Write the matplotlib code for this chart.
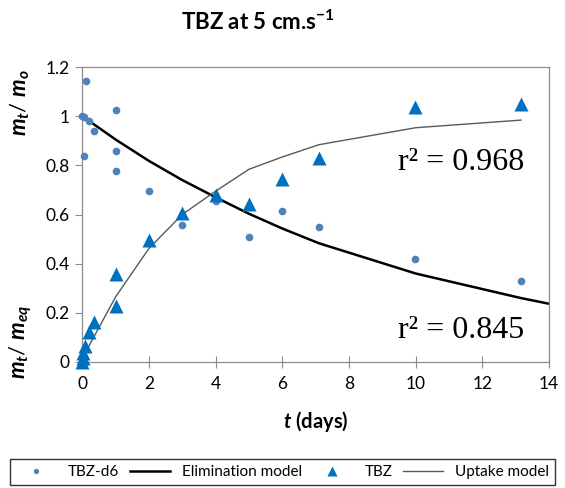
import matplotlib
matplotlib.use("Agg")
import matplotlib.pyplot as plt

# ---- data ----
d6_t = [0.0, 0.04, 0.11, 0.2, 0.34, 0.05, 1.01, 1.01, 1.01, 2.01, 3.0, 4.0, 5.01, 6.0, 7.1, 9.98, 13.16]
d6_y = [1.0, 0.995, 1.142, 0.979, 0.938, 0.836, 1.025, 0.86, 0.777, 0.696, 0.558, 0.656, 0.508, 0.614, 0.548, 0.418, 0.331]

tbz_t = [0.0, 0.01, 0.03, 0.08, 0.21, 0.34, 1.01, 1.01, 2.01, 3.0, 4.02, 5.01, 6.0, 7.1, 9.98, 13.16]
tbz_y = [0.0, 0.015, 0.035, 0.065, 0.12, 0.162, 0.357, 0.228, 0.496, 0.607, 0.679, 0.642, 0.746, 0.828, 1.037, 1.048]

elim_t = [0, 1, 2, 3, 4, 5, 6, 7.1, 10, 13.16, 14]
elim_y = [1.0, 0.905, 0.818, 0.74, 0.67, 0.603, 0.543, 0.483, 0.36, 0.26, 0.237]

upt_t = [0.1, 0.2, 0.34, 1, 2, 3, 4, 5, 6, 7.1, 10, 13.16]
upt_y = [0.04, 0.065, 0.10, 0.265, 0.462, 0.60, 0.695, 0.784, 0.834, 0.884, 0.953, 0.984]

r2_labels = ["r² = 0.968", "r² = 0.845"]
r2_pos = [0.81, 0.13]

plt.rcParams["font.family"] = ["Lato", "DejaVu Sans"]
plt.rcParams["mathtext.fontset"] = "custom"
plt.rcParams["mathtext.it"] = "Lato:italic:bold"
plt.rcParams["mathtext.rm"] = "Lato:bold"
plt.rcParams["mathtext.bf"] = "Lato:bold"

grey = "#8c8c8c"
fig = plt.figure(figsize=(5.65, 4.88), dpi=100)
ax = fig.add_axes([0.1456, 0.2582, 0.8261, 0.6045])

ax.plot(d6_t, d6_y, "o", color="#4f81bd", ms=5.5, mec="none", label="TBZ-d6",
        zorder=3, clip_on=False)
ax.plot(elim_t, elim_y, "-", color="black", lw=1.8, label="Elimination model", zorder=2)
ax.plot(tbz_t, tbz_y, "^", color="#0070c0", ms=10, mec="none", label="TBZ",
        zorder=3, clip_on=False)
ax.plot(upt_t, upt_y, "-", color="#595959", lw=1.0, label="Uptake model", zorder=2)

for lab, yy in zip(r2_labels, r2_pos):
    ax.text(13.25, yy, lab, ha="right", va="center", fontsize=23,
            family="Liberation Serif")

ax.set_xlim(0, 14)
ax.set_ylim(0, 1.2)
ax.set_xticks(range(0, 15, 2))
ax.set_yticks([0, 0.2, 0.4, 0.6, 0.8, 1.0, 1.2])
ax.set_yticklabels(["0", "0.2", "0.4", "0.6", "0.8", "1", "1.2"])
for s in ax.spines.values():
    s.set_color(grey)
    s.set_linewidth(0.9)
ax.tick_params(axis="x", direction="inout", length=8, color=grey, labelsize=12.5, pad=6)
ax.tick_params(axis="y", direction="out", length=5, color=grey, labelsize=12.5, pad=4)

ax.set_xlabel(r"$t$ (days)", fontsize=14.5, fontweight="bold", labelpad=12)

fig.text(0.036, 0.79, r"$m_t$/ $m_o$", rotation=90, ha="center", va="center", fontsize=16)
fig.text(0.036, 0.30, r"$m_t$/ $m_{eq}$", rotation=90, ha="center", va="center", fontsize=16)

fig.text(0.457, 1 - 22 / 488, r"TBZ at 5 cm.s$^{-1}$", ha="center", va="center",
         fontsize=16, fontweight="bold")

leg = fig.legend(loc="center", ncol=4, mode="expand",
                 bbox_to_anchor=(0.0177, 0.002, 0.965, 0.06),
                 frameon=True, fancybox=False, fontsize=11,
                 handlelength=2.6, borderaxespad=0, markerscale=0.7)
leg.get_frame().set_edgecolor("black")
leg.get_frame().set_linewidth(1.0)

fig.savefig("out.png", dpi=100)
